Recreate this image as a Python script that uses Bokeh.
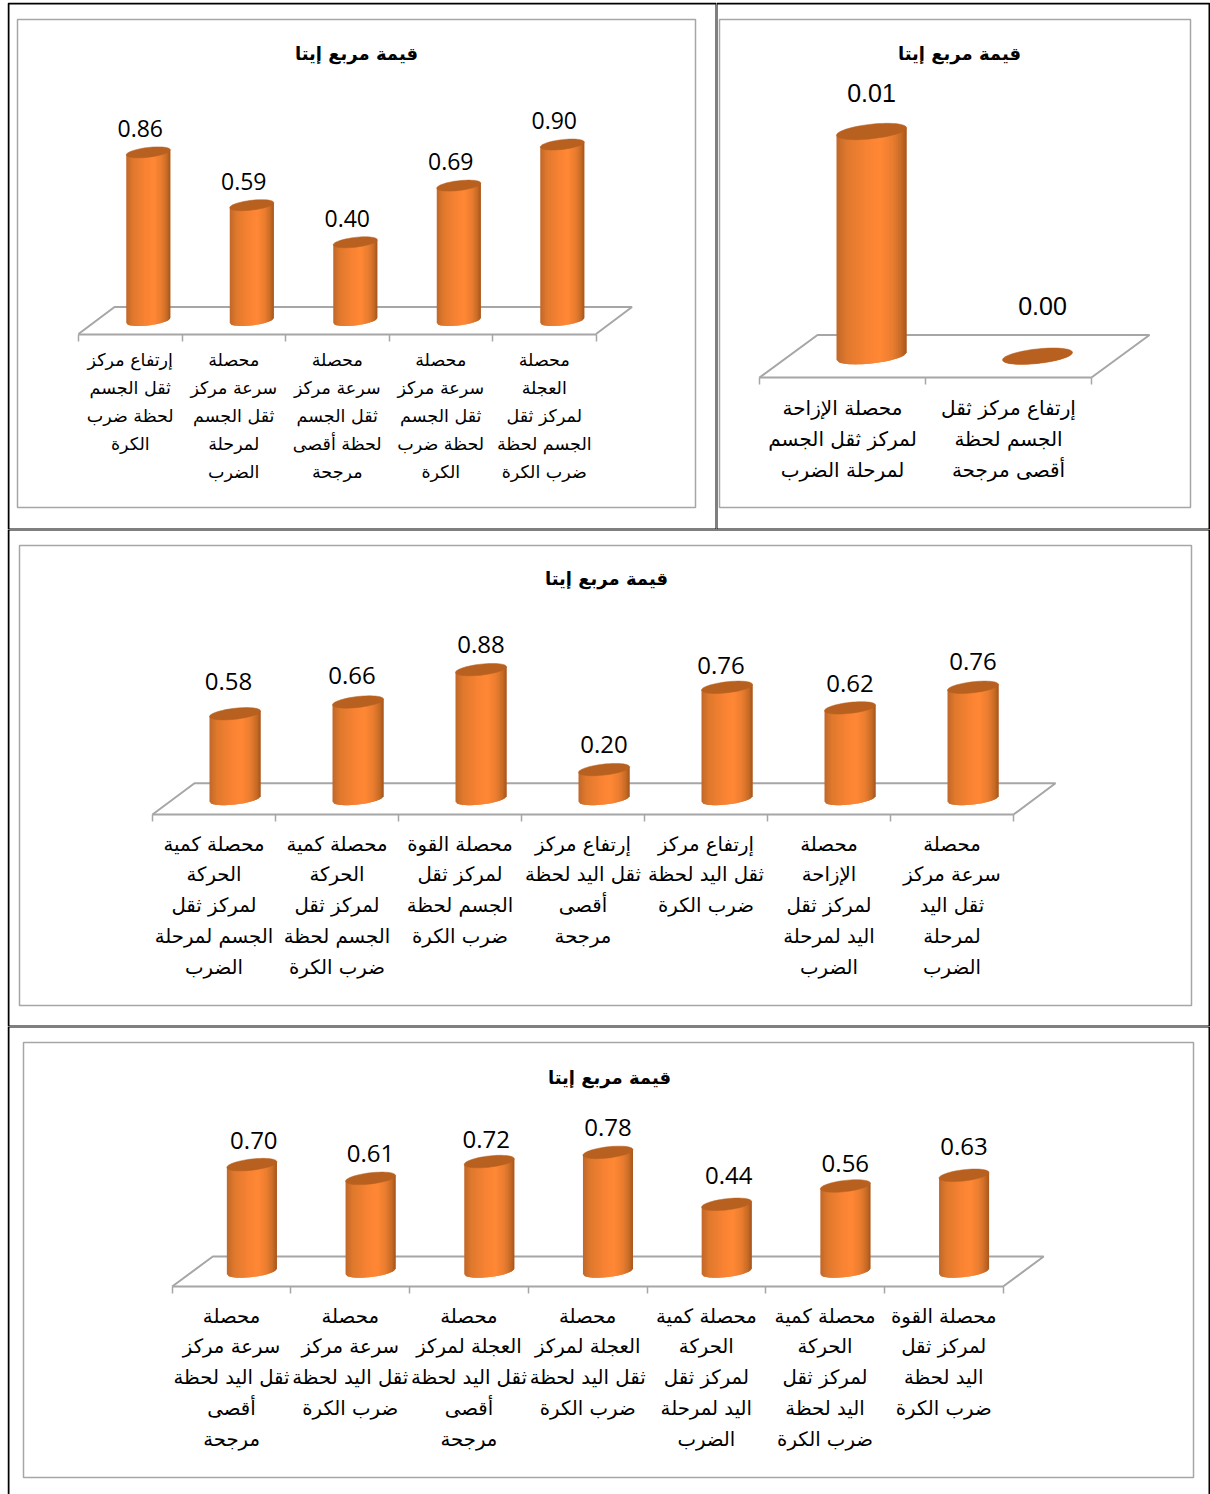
import numpy as np
from bokeh.plotting import figure
from bokeh.layouts import column, row
from bokeh.models import Range1d, FixedTicker, BoxAnnotation, AllLabels
from bokeh.core.properties import value
from bokeh.embed import file_html
from bokeh.resources import INLINE

TITLE = "قيمة مربع إيتا"

cats1 = ["إرتفاع مركز\nثقل الجسم\nلحظة ضرب\nالكرة",
         "محصلة\nسرعة مركز\nثقل الجسم\nلمرحلة\nالضرب",
         "محصلة\nسرعة مركز\nثقل الجسم\nلحظة أقصى\nمرجحة",
         "محصلة\nسرعة مركز\nثقل الجسم\nلحظة ضرب\nالكرة",
         "محصلة\nالعجلة\nلمركز ثقل\nالجسم لحظة\nضرب الكرة"]
vals1 = [0.86, 0.59, 0.40, 0.69, 0.90]

cats2 = ["محصلة الإزاحة\nلمركز ثقل الجسم\nلمرحلة الضرب",
         "إرتفاع مركز ثقل\nالجسم لحظة\nأقصى مرجحة"]
vals2 = [0.01, 0.00]

cats3 = ["محصلة كمية\nالحركة\nلمركز ثقل\nالجسم لمرحلة\nالضرب",
         "محصلة كمية\nالحركة\nلمركز ثقل\nالجسم لحظة\nضرب الكرة",
         "محصلة القوة\nلمركز ثقل\nالجسم لحظة\nضرب الكرة",
         "إرتفاع مركز\nثقل اليد لحظة\nأقصى\nمرجحة",
         "إرتفاع مركز\nثقل اليد لحظة\nضرب الكرة",
         "محصلة\nالإزاحة\nلمركز ثقل\nاليد لمرحلة\nالضرب",
         "محصلة\nسرعة مركز\nثقل اليد\nلمرحلة\nالضرب"]
vals3 = [0.58, 0.66, 0.88, 0.20, 0.76, 0.62, 0.76]

cats4 = ["محصلة\nسرعة مركز\nثقل اليد لحظة\nأقصى\nمرجحة",
         "محصلة\nسرعة مركز\nثقل اليد لحظة\nضرب الكرة",
         "محصلة\nالعجلة لمركز\nثقل اليد لحظة\nأقصى\nمرجحة",
         "محصلة\nالعجلة لمركز\nثقل اليد لحظة\nضرب الكرة",
         "محصلة كمية\nالحركة\nلمركز ثقل\nاليد لمرحلة\nالضرب",
         "محصلة كمية\nالحركة\nلمركز ثقل\nاليد لحظة\nضرب الكرة",
         "محصلة القوة\nلمركز ثقل\nاليد لحظة\nضرب الكرة"]
vals4 = [0.70, 0.61, 0.72, 0.78, 0.44, 0.56, 0.63]

GRAY = "#a6a6a6"
TOP_COLOR = "#b8601f"
STOPS = [(-1, "#c0682a"), (-0.7, "#e0792d"), (-0.1, "#f98334"), (0.25, "#ff8835"), (0.6, "#ea7d30"),
         (0.85, "#c76b26"), (1, "#a5561d")]


def rgb(h):
    return [int(h[i:i + 2], 16) for i in (1, 3, 5)]


def shade(u):
    xs = [s[0] for s in STOPS]
    ch = [np.interp(u, xs, [rgb(s[1])[k] for s in STOPS]) for k in range(3)]
    return "#%02x%02x%02x" % tuple(int(round(c)) for c in ch)


def panel(cats, vals, cell, tick0, ppc, front, back, base, dx, scale, rx, ry, tilt, box,
          title_xy, label_dx, label_dy, label_font, label_size, cat_size, line_h, standoff, lines_black):
    """cell = (x0, y0, x1, y1) on the page; everything below is pixels on the page."""
    x0, y0, x1, y1 = cell
    W, H = x1 - x0, y1 - y0
    n = len(vals)
    to_x = lambda px: (px - tick0) / ppc
    to_y = lambda py: (base - py) / scale
    p = figure(width=W, height=H, x_range=Range1d(to_x(x0), to_x(x1)), y_range=Range1d(to_y(y1), to_y(y0)),
               output_backend="svg", toolbar_location=None, y_axis_location=None,
               background_fill_color="white", border_fill_color="white", outline_line_color=None,
               min_border_left=0, min_border_right=0, min_border_top=0, min_border_bottom=0)
    p.grid.visible = False

    ax = p.xaxis[0]
    ax.fixed_location = to_y(front)
    ax.ticker = FixedTicker(ticks=[i + 0.5 for i in range(n)], minor_ticks=list(range(n + 1)))
    ax.bounds = (0, n)
    ax.major_label_overrides = {i + 0.5: c for i, c in enumerate(cats)}
    ax.major_label_policy = AllLabels()
    ax.major_tick_out = 0
    ax.major_tick_in = 0
    ax.minor_tick_out = 7
    ax.minor_tick_in = 0
    ax.minor_tick_line_color = GRAY
    ax.minor_tick_line_width = 1.5
    ax.axis_line_color = GRAY
    ax.axis_line_width = 2
    ax.major_label_standoff = standoff
    ax.major_label_text_font = "DejaVu Sans"
    ax.major_label_text_font_size = f"{cat_size}px"
    ax.major_label_text_color = "black"
    ax.major_label_text_line_height = line_h

    # title
    p.text([to_x(title_xy[0])], [to_y(title_xy[1])], text=[TITLE], text_align="center", text_baseline="middle",
           text_font=value("DejaVu Sans"), text_font_style="bold", text_font_size="18px", text_color="black")

    # floor of the 3D plot
    ddx = dx / ppc
    bdy = to_y(back)
    fdy = to_y(front)
    p.line([0, ddx, n + ddx, n], [fdy, bdy, bdy, fdy], line_color=GRAY, line_width=2)

    # cylinders, shaded with narrow overlapping vertical strips
    cx = np.arange(n) + 0.5 + ddx / 2
    us = np.linspace(-1, 1, 41)
    rxd, ryd, td = rx / ppc, ry / scale, tilt / scale
    arc = lambda u: -ryd * np.sqrt(max(0.0, 1 - u * u))
    xs, ys, cols = [], [], []
    for c, v in zip(cx, vals):
        for i in range(len(us) - 1):
            a, b = us[i], us[min(i + 2, len(us) - 1)]
            xs.append([c + rxd * a, c + rxd * b, c + rxd * b, c + rxd * a])
            ys.append([v + td * a, v + td * b, td * b + arc(b), td * a + arc(a)])
            cols.append(shade((us[i] + us[i + 1]) / 2))
    p.patches(xs, ys, fill_color=cols, line_color=None)

    th = np.linspace(0, 2 * np.pi, 61)
    p.patches([list(c + rxd * np.cos(th)) for c in cx],
              [list(v + td * np.cos(th) + ryd * np.sin(th)) for v in vals],
              fill_color=TOP_COLOR, line_color=TOP_COLOR, line_width=0.5)

    # value labels (offsets are pixels up from the top of each cylinder)
    p.text(cx + np.array(label_dx) / ppc, np.array(vals) + (np.array(label_dy) + 1) / scale,
           text=[f"{v:.2f}" for v in vals], text_align="center", text_baseline="middle",
           text_font=value(label_font), text_font_size=f"{label_size}px", text_color="black")

    # chart frame and table rules, in canvas pixels
    for (bx0, by0, bx1, by1), col, lw in ((box, GRAY, 1.5), (lines_black, "black", 2)):
        p.add_layout(BoxAnnotation(left=bx0 - x0, right=bx1 - x0, top=by0 - y0, bottom=by1 - y0,
                                   left_units="canvas", right_units="canvas", top_units="canvas",
                                   bottom_units="canvas", fill_alpha=0, line_color=col, line_alpha=1,
                                   line_width=lw))
    return p


p1 = panel(cats1, vals1, (7, 2, 716, 529), 78, 103.5, 333.5, 306.5, 320, 36, 195.5, 22, 4.9, 2.5,
           (17, 19, 695, 507), (356, 53), [-8, -8, -8, -8, -8], [23, 23, 23, 23, 23], "Open Sans", 23,
           17.5, 1.4, 9, (8, 3, 716, 529))
p2 = panel(cats2, vals2, (716, 2, 1210, 529), 759, 166, 377, 334.5, 355.7, 58, 22470, 35, 7.3, 3.7,
           (719, 19, 1190, 507), (959, 53), [0, 5], [37.5, 49], "Liberation Sans", 25,
           20, 1.3, 11, (716, 3, 1209, 529))
p3 = panel(cats3, vals3, (7, 529, 1210, 1026), 152, 123, 814, 782.7, 798.5, 42, 147, 25.5, 5.5, 2.8,
           (19, 545, 1191, 1005), (606, 578), [-6.5, -6, 0, 0, -6, 0, 0], [31, 25, 24, 24, 21, 23, 25],
           "Open Sans", 24, 19.7, 1.343, 11, (8, 529, 1209, 1026))
p4 = panel(cats4, vals4, (7, 1026, 1210, 1494), 171.7, 118.7, 1286, 1256, 1271, 40.6, 152.7, 25, 5.6, 2.8,
           (23, 1042, 1193, 1477), (609, 1077), [2, 0, -3, 0, 2, 0, 0], [23, 24, 21, 24, 28, 21.5, 28],
           "Open Sans", 24, 19.7, 1.343, 11, (8, 1026, 1209, 1510))

page = column(row(p1, p2, spacing=0), p3, p4, spacing=0, margin=(2, 0, 0, 7))
open("out.html", "w").write(file_html(page, INLINE))
